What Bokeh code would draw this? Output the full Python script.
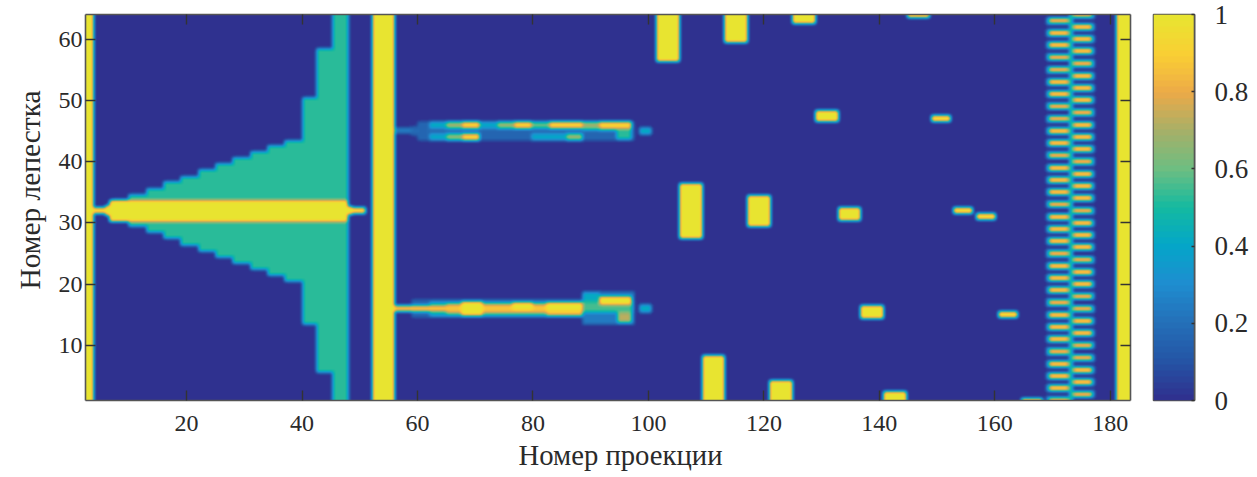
import numpy as np
from bokeh.embed import file_html
from bokeh.resources import INLINE
from bokeh.layouts import row
from bokeh.plotting import figure
from bokeh.models import LinearAxis, FixedTicker, LinearColorMapper, Range1d, Title

# ---- data -----------------------------------------------------------------------
x_label = "Номер проекции"
y_label = "Номер лепестка"
x_ticks = [20, 40, 60, 80, 100, 120, 140, 160, 180]
y_ticks = [10, 20, 30, 40, 50, 60]
cbar_ticks = [0, 0.2, 0.4, 0.6, 0.8, 1]
cbar_labels = {0: "0", 0.2: "0.2", 0.4: "0.4", 0.6: "0.6", 0.8: "0.8", 1: "1"}
x_limits = (2.5, 183.5)
y_limits = (1.0, 64.0)

# full-height bright columns (x0, x1)
full_columns = [(2.0, 3.9), (52.2, 56.0), (181.0, 184.0)]

# wedge left of projection 48: band edges, upper and lower limit of each band
wedge_edges = [7, 10, 13, 16, 19, 22, 25, 28, 31, 34, 37, 40, 42.5, 45.3, 48]
wedge_top = [33.8, 34.6, 35.6, 36.7, 37.5, 38.7, 39.6, 40.6, 41.6, 42.6, 43.5, 50.5, 58.5, 65]
wedge_bottom = [30.2, 29.4, 28.4, 27.4, 26.3, 25.3, 24.3, 23.4, 22.4, 21.4, 20.4, 13.4, 5.6, 0]
wedge_value = 0.52

# isolated regions: x0, x1, y0, y1, value
ridge_32 = [
    (3.5, 51.0, 31.5, 32.5, 0.96),
    (6.0, 7.0, 31.2, 32.8, 1.0),
    (6.7, 47.9, 30.25, 33.6, 1.0),
    (47.9, 48.8, 31.3, 32.7, 1.0),
]
isolated = [
    (101.4, 105.4, 56.4, 65, 1), (113.2, 117.1, 59.5, 65, 1), (124.9, 128.9, 62.6, 65, 1),
    (144.8, 148.7, 63.5, 65, 1), (128.9, 132.9, 46.5, 48.4, 1), (149.0, 152.3, 46.5, 47.5, 1),
    (105.4, 109.3, 27.4, 36.4, 1), (117.1, 121.1, 29.4, 34.4, 1), (132.9, 136.7, 30.4, 32.5, 1),
    (152.9, 156.2, 31.5, 32.5, 1), (156.8, 160.2, 30.5, 31.5, 1), (136.7, 140.7, 14.4, 16.5, 1),
    (160.7, 164.0, 14.5, 15.5, 1), (109.4, 113.2, 0, 8.4, 1), (121.0, 125.0, 0, 4.3, 1),
    (140.7, 144.7, 0, 2.5, 1), (164.6, 168.2, 0, 1.4, 1),
]
lobe_45 = [
    (56.0, 60.0, 44.5, 45.5, 0.24),
    (59.0, 60.5, 44.2, 45.8, 0.18),
    (60.0, 97.6, 43.4, 46.6, 0.17),
    (62.1, 65.0, 45.4, 46.6, 0.42), (65.0, 67.8, 45.4, 46.6, 0.68), (67.8, 70.7, 45.4, 46.6, 0.92),
    (70.7, 73.9, 45.4, 46.6, 0.40), (73.9, 76.8, 45.4, 46.6, 0.66), (76.8, 79.7, 45.4, 46.6, 0.92),
    (79.7, 82.9, 45.4, 46.6, 0.58), (82.9, 88.6, 45.4, 46.6, 0.92), (88.6, 91.5, 45.4, 46.6, 0.68),
    (91.5, 97.1, 45.4, 46.6, 0.92), (88.6, 94.5, 45.0, 45.4, 0.42), (91.5, 97.1, 45.0, 45.4, 0.55),
    (62.1, 65.0, 43.4, 44.6, 0.40), (65.0, 67.8, 43.4, 44.6, 0.64), (67.8, 70.7, 43.4, 44.6, 0.92),
    (79.7, 85.8, 43.4, 44.6, 0.40), (85.8, 88.6, 43.4, 44.6, 0.66),
    (94.5, 97.1, 43.6, 45.0, 0.52),
    (98.4, 100.5, 44.4, 45.6, 0.42),
]
lobe_16 = [
    (59.0, 88.6, 14.6, 17.5, 0.17),
    (62.0, 88.6, 14.7, 17.2, 0.40),
    (65.0, 88.6, 15.0, 16.9, 0.60),
    (56.0, 88.6, 15.5, 16.5, 0.88),
    (65.0, 88.6, 15.3, 16.7, 0.87),
    (67.6, 71.3, 14.8, 17.2, 1.0),
    (76.5, 79.9, 15.9, 17.0, 1.0),
    (82.3, 88.6, 15.7, 17.0, 1.0),
    (82.3, 88.6, 14.9, 15.7, 0.87),
    (88.6, 97.6, 13.4, 18.8, 0.24),
    (88.6, 91.5, 17.2, 18.6, 0.42),
    (88.6, 97.2, 15.4, 17.2, 0.55),
    (91.5, 97.0, 16.7, 18.0, 1.0),
    (94.6, 97.0, 13.8, 15.4, 0.72),
    (98.4, 100.5, 15.4, 16.6, 0.42),
]

# alternating stripes near projections 170-177
stripe_rows_a = [1, 3, 5, 7, 9, 11, 13, 15, 17, 19, 21, 23, 25, 27, 29, 31, 33, 35, 37, 39, 41, 43, 45, 47, 49, 51, 53, 55, 57, 59, 61, 63]
stripe_rows_b = [2, 4, 6, 8, 10, 12, 14, 16, 18, 20, 22, 24, 26, 28, 30, 32, 34, 36, 38, 40, 42, 44, 46, 48, 50, 52, 54, 56, 58, 60, 62, 64]
stripe_span_a = (169.1, 173.2)
stripe_span_b = (173.2, 177.2)
stripe_peak = 0.94
stripe_halo = 0.40
stripe_joint = (172.9, 173.5, 0.55)

# colour scale stops
scale_pos = [0.0, 0.1, 0.2, 0.3, 0.4, 0.5, 0.6, 0.7, 0.8, 0.9, 1.0]
scale_rgb = [(47, 49, 143), (36, 86, 166), (36, 112, 185), (30, 142, 208), (4, 166, 200),
             (20, 186, 160), (108, 190, 130), (165, 176, 105), (236, 170, 72), (250, 206, 52), (232, 228, 48)]

# ---- raster through a pixel grid -------------------------------------------------
W, H = 1045, 386
xs = x_limits[0] + (np.arange(W) + 0.5) * (x_limits[1] - x_limits[0]) / W
ys = y_limits[0] + (np.arange(H) + 0.5) * (y_limits[1] - y_limits[0]) / H
Z = np.zeros((H, W))


def paint(x0, x1, y0, y1, v):
    Z[np.ix_((ys >= y0) & (ys < y1), (xs >= x0) & (xs < x1))] = v


for i in range(len(wedge_top)):
    paint(wedge_edges[i], wedge_edges[i + 1], wedge_bottom[i], wedge_top[i], wedge_value)
for b in ridge_32 + lobe_45 + lobe_16 + isolated:
    paint(*b)
for x0, x1 in full_columns:
    paint(x0, x1, 0, 65, 1)
for rows_, span in ((stripe_rows_a, stripe_span_a), (stripe_rows_b, stripe_span_b)):
    for r in rows_:
        paint(span[0] - 0.1, span[1] + 0.1, r - 0.58, r + 0.58, stripe_halo)
    for r in rows_:
        paint(span[0] + 0.45, span[1] - 0.45, r - 0.38, r + 0.38, stripe_peak)
paint(stripe_joint[0], stripe_joint[1], 0, 65, stripe_joint[2])

kernel = np.array([1, 2, 3, 4, 3, 2, 1]) / 16.0
pad = 8
P = np.pad(Z, pad, mode="edge")
P = np.apply_along_axis(lambda a: np.convolve(a, kernel, mode="same"), 0, P)
P = np.apply_along_axis(lambda a: np.convolve(a, kernel, mode="same"), 1, P)
Z = P[pad:-pad, pad:-pad]

levels = np.linspace(0, 1, 64)
palette = ["#%02x%02x%02x" % tuple(int(round(np.interp(l, scale_pos, [c[k] for c in scale_rgb]))) for k in range(3)) for l in levels]
mapper = LinearColorMapper(palette=palette, low=0, high=1)

FONT = "Liberation Serif"
INK = "#2a2a2a"
EDGE = "#555555"


def style_axis(a, size="24px"):
    a.major_tick_in = 10
    a.major_tick_out = 0
    a.minor_tick_line_color = None
    a.major_tick_line_color = "#333333"
    a.major_tick_line_width = 1.4
    a.axis_line_color = EDGE
    a.axis_line_width = 1.6
    a.major_label_text_font = FONT
    a.major_label_text_font_size = size
    a.major_label_text_color = INK


p = figure(frame_width=W, frame_height=H, width=1141, height=476,
           x_range=Range1d(*x_limits), y_range=Range1d(*y_limits),
           min_border_left=85, min_border_right=10, min_border_top=14, min_border_bottom=76,
           toolbar_location=None, output_backend="svg", outline_line_color=None,
           background_fill_color="white", border_fill_color="white")
p.grid.visible = False
p.image(image=[Z], x=x_limits[0], y=y_limits[0], dw=x_limits[1] - x_limits[0], dh=y_limits[1] - y_limits[0],
        color_mapper=mapper)
p.xaxis.ticker = FixedTicker(ticks=x_ticks)
p.yaxis.ticker = FixedTicker(ticks=y_ticks)
style_axis(p.xaxis[0])
style_axis(p.yaxis[0])
p.xaxis[0].major_label_standoff = 15
p.yaxis[0].major_label_standoff = 3
for side, ticks in (("above", x_ticks), ("right", y_ticks)):
    ax = LinearAxis(ticker=FixedTicker(ticks=ticks), major_label_overrides={t: "" for t in ticks})
    style_axis(ax)
    ax.major_label_standoff = 0
    p.add_layout(ax, side)

p.add_layout(Title(text=x_label, align="left", offset=433, standoff=7, vertical_align="bottom",
                   text_font=FONT, text_font_size="28.7px", text_color=INK, text_font_style="normal"), "below")
p.add_layout(Title(text=y_label, align="left", offset=111, standoff=15, vertical_align="top",
                   text_font=FONT, text_font_size="29.4px", text_color=INK, text_font_style="normal"), "left")

cb_vals = np.array(levels).reshape(-1, 1)
c = figure(frame_width=41, frame_height=H, width=115, height=476,
           x_range=Range1d(0, 1), y_range=Range1d(0, 1), y_axis_location="right",
           min_border_left=13, min_border_right=61, min_border_top=14, min_border_bottom=76,
           toolbar_location=None, output_backend="svg", outline_line_color=EDGE, outline_line_width=1.6,
           background_fill_color="white", border_fill_color="white")
c.grid.visible = False
c.xaxis.visible = False
c.image(image=[cb_vals], x=0, y=0, dw=1, dh=1, color_mapper=mapper)
c.yaxis.ticker = FixedTicker(ticks=cbar_ticks)
c.yaxis.major_label_overrides = cbar_labels
style_axis(c.yaxis[0], "27px")
c.yaxis[0].major_tick_in = 3
c.yaxis[0].major_label_standoff = 20

open("out.html", "w").write(file_html(row(p, c, spacing=0), INLINE))
